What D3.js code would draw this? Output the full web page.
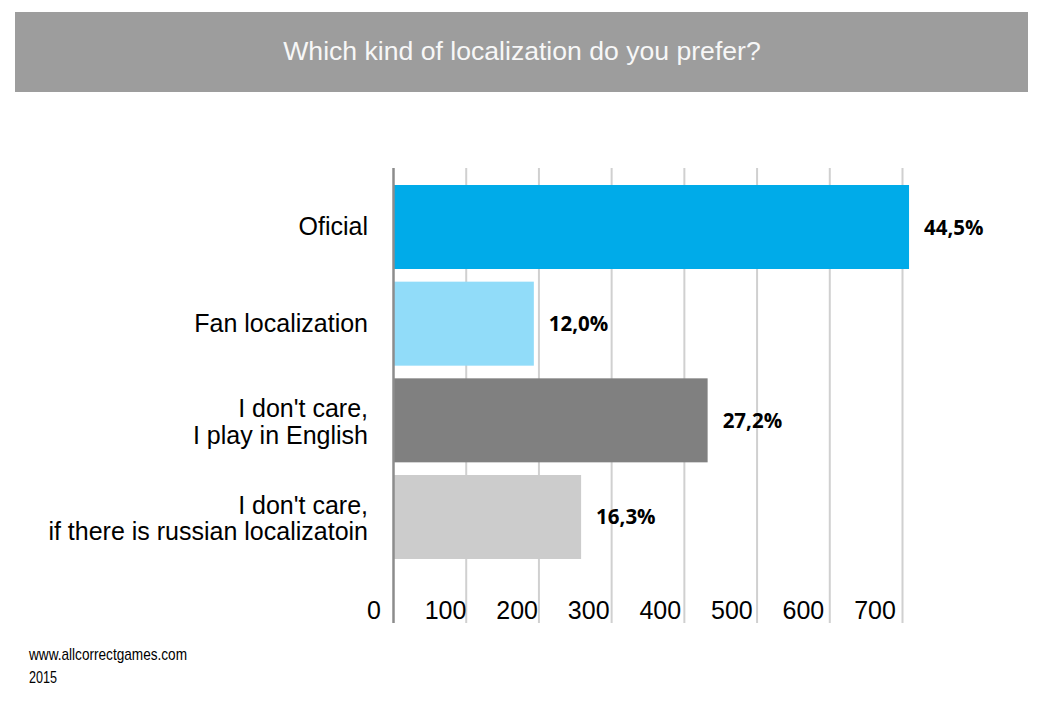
<!DOCTYPE html>
<html>
<head>
<meta charset="utf-8">
<script src="https://cdn.jsdelivr.net/npm/d3@7"></script>
<style>
  html, body { margin: 0; padding: 0; background: #ffffff; }
  svg { display: block; }
</style>
</head>
<body>
<svg id="chart" width="1045" height="710"></svg>
<script>
// ---- data ----
const chartTitle = "Which kind of localization do you prefer?";
const categories = [
  ["Oficial"],
  ["Fan localization"],
  ["I don't care,", "I play in English"],
  ["I don't care,", "if there is russian localizatoin"]
];
const categoryKeys = ["official", "fan", "english", "russian"];
const values = [709, 193, 432, 258];
const percentLabels = ["44,5%", "12,0%", "27,2%", "16,3%"];
const barColors = ["#00abe9", "#91dcf9", "#808080", "#cccccc"];
const tickValues = [0, 100, 200, 300, 400, 500, 600, 700];
const footerLines = ["www.allcorrectgames.com", "2015"];

// ---- drawing ----
const svg = d3.select("#chart");

// title bar
svg.append("rect")
  .attr("x", 15).attr("y", 12).attr("width", 1013).attr("height", 80)
  .attr("fill", "#9d9d9d");
svg.append("text")
  .attr("x", 522).attr("y", 60)
  .attr("text-anchor", "middle")
  .attr("font-family", "'Liberation Sans', Arial, sans-serif")
  .attr("font-size", "26.6px")
  .attr("fill", "#f7f7f7")
  .text(chartTitle);

const x = d3.scaleLinear().domain([0, 700]).range([393.5, 902.5]);
const xLabel = d3.scaleLinear().domain([0, 700]).range([374, 875]);
const y = d3.scaleBand().domain(categoryKeys).range([185, 559])
  .paddingInner(0.131).paddingOuter(0);

const gridTop = 168, gridBottom = 623;

// gridlines
svg.append("g").selectAll("line")
  .data(tickValues.filter(t => t > 0))
  .join("line")
  .attr("x1", d => x(d)).attr("x2", d => x(d))
  .attr("y1", gridTop).attr("y2", gridBottom)
  .attr("stroke", "#d0d0d0").attr("stroke-width", 2);

// bars
svg.append("g").selectAll("rect")
  .data(values)
  .join("rect")
  .attr("x", x(0))
  .attr("y", (d, i) => y(categoryKeys[i]))
  .attr("width", d => x(d) - x(0))
  .attr("height", y.bandwidth())
  .attr("fill", (d, i) => barColors[i]);

// axis line at 0
svg.append("line")
  .attr("x1", x(0)).attr("x2", x(0))
  .attr("y1", gridTop).attr("y2", gridBottom)
  .attr("stroke", "#8c8c8c").attr("stroke-width", 2.5);

// tick labels
svg.append("g").selectAll("text")
  .data(tickValues)
  .join("text")
  .attr("x", d => xLabel(d))
  .attr("y", 619)
  .attr("text-anchor", "middle")
  .attr("font-family", "'Liberation Sans', Arial, sans-serif")
  .attr("font-size", "25px")
  .attr("fill", "#000")
  .text(d => d);

// category labels
const catG = svg.append("g");
categories.forEach((lines, i) => {
  const cy = y(categoryKeys[i]) + y.bandwidth() / 2;
  const t = catG.append("text")
    .attr("text-anchor", "end")
    .attr("font-family", "'Liberation Sans', Arial, sans-serif")
    .attr("font-size", "25px")
    .attr("fill", "#000");
  if (lines.length === 1) {
    t.append("tspan").attr("x", 368).attr("y", cy + 8).text(lines[0]);
  } else {
    t.append("tspan").attr("x", 368).attr("y", cy - 3).text(lines[0]);
    t.append("tspan").attr("x", 368).attr("y", cy + 23.5).text(lines[1]);
  }
});

// value labels
svg.append("g").selectAll("text")
  .data(values)
  .join("text")
  .attr("x", d => x(d) + 15)
  .attr("y", (d, i) => y(categoryKeys[i]) + y.bandwidth() / 2 + 7.5)
  .attr("font-family", "'Open Sans', 'Noto Sans', sans-serif")
  .attr("font-weight", 700)
  .attr("font-size", "20.5px")
  .attr("fill", "#000")
  .text((d, i) => percentLabels[i]);

// footer
svg.append("text")
  .attr("x", 29).attr("y", 660)
  .attr("font-family", "'Liberation Sans Narrow', 'Liberation Sans', Arial, sans-serif")
  .attr("font-size", "17px")
  .attr("textLength", 158).attr("lengthAdjust", "spacingAndGlyphs")
  .attr("fill", "#000")
  .text(footerLines[0]);
svg.append("text")
  .attr("x", 29).attr("y", 683)
  .attr("font-family", "'Liberation Sans Narrow', 'Liberation Sans', Arial, sans-serif")
  .attr("font-size", "17px")
  .attr("textLength", 28).attr("lengthAdjust", "spacingAndGlyphs")
  .attr("fill", "#000")
  .text(footerLines[1]);
</script>
</body>
</html>
